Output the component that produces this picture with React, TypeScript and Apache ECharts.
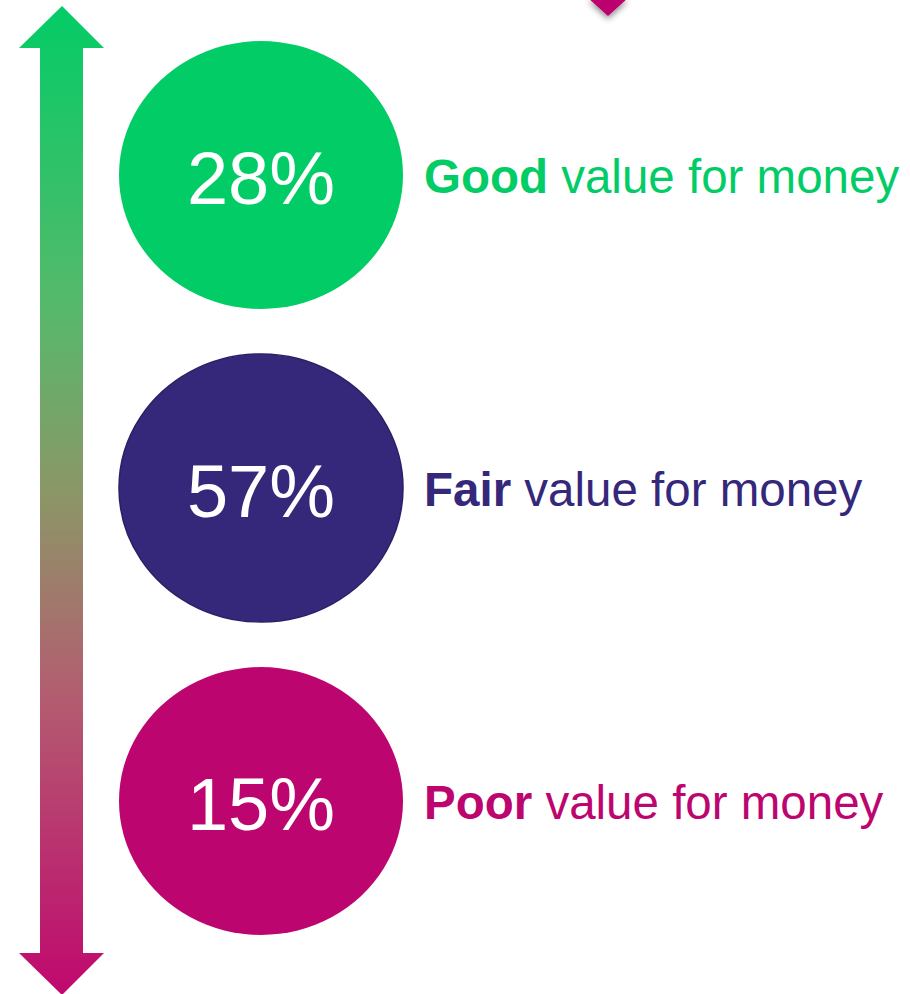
import React, { useEffect, useRef } from "react";
import * as echarts from "echarts";

const categories = ["Good", "Fair", "Poor"];
const shares = [28, 57, 15];
const suffixText = "value for money";
const colors = ["#02cc66", "#35287a", "#bc056e"];
const borderColors = ["#02cc66", "#2a2065", "#bc056e"];

const FONT = "Liberation Sans";

export default function App() {
  const ref = useRef<HTMLDivElement>(null);

  useEffect(() => {
    if (!ref.current) return;
    const chart = echarts.init(ref.current, null, { renderer: "svg" });

    const circleData = shares.map((v, i) => ({
      name: categories[i],
      value: [0, categories[i], v],
      itemStyle: {
        color: colors[i],
        opacity: 1,
        borderColor: borderColors[i],
        borderWidth: i === 1 ? 1.5 : 0,
      },
    }));

    const labelData = shares.map((v, i) => ({
      name: categories[i],
      value: [0, categories[i], v],
      label: {
        rich: {
          b: { color: colors[i], fontWeight: "bold", fontSize: 47.5, fontFamily: FONT },
          r: { color: colors[i], fontSize: 47.5, fontFamily: FONT },
        },
      },
    }));

    const arrowGradient = new echarts.graphic.LinearGradient(0, 0, 0, 1, [
      { offset: 0, color: "#03cc66" },
      { offset: 0.3, color: "#55b96b" },
      { offset: 0.5, color: "#8d9567" },
      { offset: 0.7, color: "#b35c70" },
      { offset: 1, color: "#c0086e" },
    ]);

    chart.setOption({
      animation: false,
      backgroundColor: "#ffffff",
      textStyle: { fontFamily: FONT },
      grid: { left: 119, right: 507, top: 18.5, height: 939 },
      xAxis: { type: "value", min: -1, max: 1, show: false },
      yAxis: { type: "category", data: categories, inverse: true, show: false },
      graphic: [
        {
          type: "polygon",
          silent: true,
          z: 1,
          shape: {
            points: [
              [62, 6],
              [104, 48],
              [83, 48],
              [83, 953],
              [104, 953],
              [62, 995],
              [19, 953],
              [40, 953],
              [40, 48],
              [19, 48],
            ],
          },
          style: { fill: arrowGradient },
        },
        {
          type: "polygon",
          silent: true,
          z: 1,
          shape: {
            points: [
              [588, -2],
              [628, -2],
              [608, 16],
            ],
          },
          style: {
            fill: "#bc056e",
            shadowBlur: 6,
            shadowColor: "rgba(0,0,0,0.45)",
            shadowOffsetY: 3,
          },
        },
      ],
      series: [
        {
          type: "scatter",
          silent: true,
          symbol: "circle",
          symbolSize: [284, 268],
          itemStyle: { opacity: 1 },
          data: circleData,
          label: {
            show: true,
            position: "inside",
            offset: [0, 3],
            color: "#ffffff",
            fontSize: 74,
            fontFamily: FONT,
            formatter: (p: any) => `${p.value[2]}%`,
          },
          emphasis: { disabled: true },
        },
        {
          type: "scatter",
          silent: true,
          symbol: "circle",
          symbolSize: [284, 268],
          itemStyle: { color: "rgba(0,0,0,0)", opacity: 1 },
          data: labelData,
          label: {
            show: true,
            position: "right",
            distance: 21,
            offset: [0, 1.5],
            fontFamily: FONT,
            formatter: (p: any) => `{b|${p.name}}{r| ${suffixText}}`,
          },
          emphasis: { disabled: true },
        },
      ],
    });

    return () => chart.dispose();
  }, []);

  return (
    <div
      ref={ref}
      style={{ position: "fixed", left: 0, top: 0, width: 910, height: 994, background: "#fff" }}
    />
  );
}
